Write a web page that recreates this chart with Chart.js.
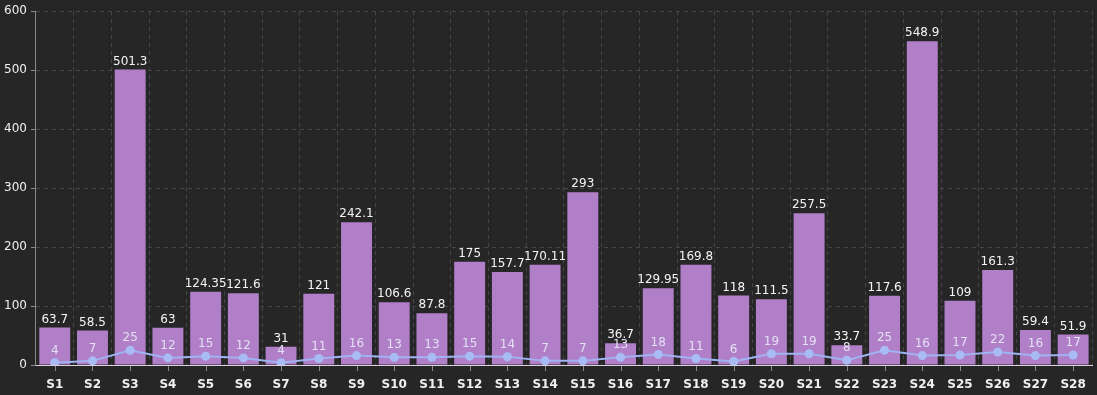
<!DOCTYPE html>
<html>
<head>
<meta charset="utf-8">
<script src="https://cdn.jsdelivr.net/npm/chart.js@4/dist/chart.umd.min.js"></script>
<style>
  html, body { margin: 0; padding: 0; background: #262626; }
  #wrap { width: 1097px; height: 395px; position: relative; }
</style>
</head>
<body>
<div id="wrap"><canvas id="chart"></canvas></div>
<script>
// Data
const categories = ['S1','S2','S3','S4','S5','S6','S7','S8','S9','S10','S11','S12','S13','S14',
  'S15','S16','S17','S18','S19','S20','S21','S22','S23','S24','S25','S26','S27','S28'];
const barValues = [63.7, 58.5, 501.3, 63, 124.35, 121.6, 31, 121, 242.1, 106.6, 87.8, 175, 157.7, 170.11,
  293, 36.7, 129.95, 169.8, 118, 111.5, 257.5, 33.7, 117.6, 548.9, 109, 161.3, 59.4, 51.9];
const lineValues = [4, 7, 25, 12, 15, 12, 4, 11, 16, 13, 13, 15, 14, 7,
  7, 13, 18, 11, 6, 19, 19, 8, 25, 16, 17, 22, 16, 17];
const yTicks = [0, 100, 200, 300, 400, 500, 600];

const FONT = 'DejaVu Sans, Verdana, sans-serif';

// Value labels above bars and points
const valueLabels = {
  id: 'valueLabels',
  afterDatasetsDraw(chart) {
    const ctx = chart.ctx;
    ctx.save();
    ctx.textAlign = 'center';
    ctx.textBaseline = 'bottom';
    chart.data.datasets.forEach((ds, di) => {
      const meta = chart.getDatasetMeta(di);
      meta.data.forEach((el, i) => {
        const v = ds.data[i];
        ctx.font = '12px ' + FONT;
        if (ds.type === 'bar') {
          ctx.fillStyle = '#f4f4f4';
          ctx.fillText(String(v), el.x, el.y - 2);
        } else {
          ctx.fillStyle = '#e4e0f4';
          ctx.fillText(String(v), el.x, el.y - 6);
        }
      });
    });
    ctx.restore();
  }
};

// x tick marks sit at category centres, grid lines at the boundaries
const centreTicks = {
  id: 'centreTicks',
  afterDraw(chart) {
    const ctx = chart.ctx;
    const x = chart.scales.x;
    ctx.save();
    ctx.strokeStyle = '#8a8a8a';
    ctx.lineWidth = 1;
    ctx.beginPath();
    categories.forEach((c, i) => {
      const px = Math.round(x.getPixelForValue(i)) + 0.5;
      ctx.moveTo(px, x.top + 1);
      ctx.lineTo(px, x.top + 6);
    });
    ctx.stroke();
    ctx.restore();
  }
};

const bg = {
  id: 'bg',
  beforeDraw(chart) {
    const ctx = chart.ctx;
    ctx.save();
    ctx.fillStyle = '#262626';
    ctx.fillRect(0, 0, chart.width, chart.height);
    ctx.restore();
  }
};

new Chart(document.getElementById('chart'), {
  data: {
    labels: categories,
    datasets: [
      {
        type: 'line',
        data: lineValues,
        borderColor: '#9fb2f2',
        backgroundColor: '#a9bbf5',
        borderWidth: 2,
        pointRadius: 4.5,
        pointHoverRadius: 4.5,
        pointBorderWidth: 0,
        tension: 0,
        order: 0
      },
      {
        type: 'bar',
        data: barValues,
        backgroundColor: '#b07fc7',
        barPercentage: 0.82,
        categoryPercentage: 1,
        order: 1
      }
    ]
  },
  options: {
    responsive: true,
    maintainAspectRatio: false,
    animation: false,
    layout: { padding: { left: 0, right: 5, top: 1, bottom: 0 } },
    plugins: {
      legend: { display: false },
      tooltip: { enabled: false }
    },
    scales: {
      x: {
        offset: true,
        afterFit: (s) => { s.height = 30; },
        grid: {
          offset: true,
          color: '#464646',
          tickColor: 'rgba(0,0,0,0)',
          tickLength: 5
        },
        border: { color: '#ddd2e2', width: 1, dash: [4, 4] },
        ticks: { color: '#f0f0f0', font: { family: FONT, size: 12, weight: 'bold' }, padding: 8 }
      },
      y: {
        min: 0,
        max: 600,
        afterBuildTicks: (axis) => { axis.ticks = yTicks.map(v => ({ value: v })); },
        grid: { color: '#464646', tickColor: '#888888', tickLength: 5, tickBorderDash: [] },
        border: { color: '#888888', dash: [4, 4] },
        ticks: { color: '#f0f0f0', font: { family: FONT, size: 12 }, padding: 4 }
      }
    }
  },
  plugins: [bg, valueLabels, centreTicks]
});
</script>
</body>
</html>
